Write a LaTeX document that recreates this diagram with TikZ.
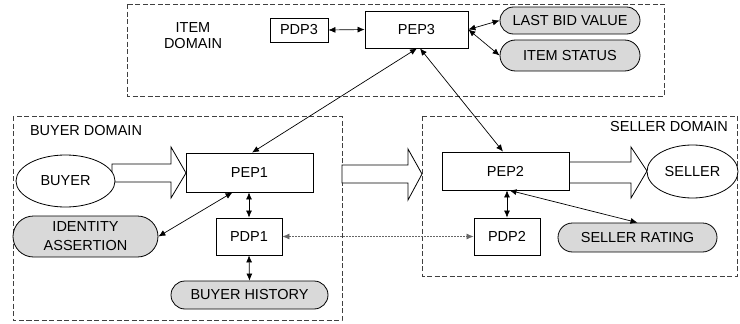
\documentclass[tikz,border=0pt]{standalone}
\usepackage{fontspec}
\setmainfont{Liberation Sans}
\usetikzlibrary{arrows.meta,shapes.misc,shapes.geometric,calc}
\begin{document}
\begin{tikzpicture}[x=1pt,y=-1pt,
  lbl/.style={font=\fontsize{14.5}{16}\selectfont},
  box/.style={draw,line width=0.8pt,fill=white,inner sep=0pt,lbl},
  store/.style={rounded rectangle,draw,line width=0.8pt,fill=black!15,inner sep=0pt,lbl},
  actor/.style={ellipse,draw,line width=0.8pt,fill=white,inner sep=0pt,lbl},
  dombox/.style={draw=black!75,line width=0.8pt,dash pattern=on 5pt off 2.5pt},
  fat/.style={draw,line width=0.8pt,fill=white,line join=miter},
  link/.style={line width=0.7pt,{Latex[length=7pt,width=6pt]}-{Latex[length=7pt,width=6pt]}},
  dotlink/.style={link,draw=black!60,dash pattern=on 2pt off 1pt}]
\useasboundingbox (0,0) rectangle (740,324);
% domains
\draw[dombox] (127,4) rectangle (664,96);
\draw[dombox] (13,116) rectangle (342,320);
\draw[dombox] (422,116) rectangle (737,276);
\node[lbl,align=center] (itemdom) at (193,36) {ITEM\\DOMAIN};
\node[lbl] (buyerdom) at (86,131) {BUYER DOMAIN};
\node[lbl] (sellerdom) at (669,127) {SELLER DOMAIN};
% big arrows
\draw[fat] (112,164) -- (171,164) -- (171,147) -- (186,173) -- (171,198) -- (171,182) -- (112,182) -- cycle;
\draw[fat] (342,165) -- (408,165) -- (408,149) -- (422,174) -- (408,200) -- (408,183) -- (342,183) -- cycle;
\draw[fat] (568,162) -- (631,162) -- (631,147) -- (647,171) -- (631,198) -- (631,183) -- (568,183) -- cycle;
% nodes
\node[box,minimum width=58pt,minimum height=24pt] (pdp3) at (299,30) {PDP3};
\node[box,minimum width=103pt,minimum height=37pt] (pep3) at (416.5,29.5) {PEP3};
\node[store,minimum width=140pt,minimum height=27pt] (lbv) at (570,20.5) {LAST BID VALUE};
\node[store,minimum width=140pt,minimum height=31pt] (ist) at (570,55.5) {ITEM STATUS};
\node[actor,minimum width=99pt,minimum height=52pt] (buyer) at (65.5,181) {BUYER};
\node[box,minimum width=127pt,minimum height=39pt] (pep1) at (249.5,172.5) {PEP1};
\node[store,minimum width=145pt,minimum height=41pt,align=center,font=\fontsize{14.5}{19}\selectfont] (ida) at (85.5,236.5) {IDENTITY\\ASSERTION};
\node[box,minimum width=66pt,minimum height=37pt] (pdp1) at (249,236.5) {PDP1};
\node[store,minimum width=157pt,minimum height=28pt] (bh) at (249.5,295) {BUYER HISTORY};
\node[box,minimum width=127pt,minimum height=38pt] (pep2) at (505.5,171) {PEP2};
\node[actor,minimum width=91pt,minimum height=53pt] (seller) at (692.5,171.5) {SELLER};
\node[box,minimum width=66pt,minimum height=37pt] (pdp2) at (507,236.5) {PDP2};
\node[store,minimum width=159pt,minimum height=29pt] (sr) at (637.5,237.5) {SELLER RATING};
% connectors
\draw[link] (pdp3.east) -- (pep3.west);
\draw[link] (pep3.east) -- (lbv.west);
\draw[link] (pep3.east) -- (ist.west);
\draw[link] ($(pep1.north)+(2.5,0)$) -- ($(pep3.south)+(0.5,0)$);
\draw[link] ($(pep2.north)+(-2.5,0)$) -- ($(pep3.south)+(3.5,0)$);
\draw[link] (pdp1.north) -- (pdp1.north |- pep1.south);
\draw[link] ($(pep1.south)+(-17,0)$) -- (ida.east);
\draw[link] (pdp1.south) -- (bh.north);
\draw[dotlink] (pdp1.east) -- (pdp2.west);
\draw[link] (pdp2.north) -- (pdp2.north |- pep2.south);
\draw[link] ($(pep2.south)+(4,0)$) -- (sr.north);
\end{tikzpicture}
\end{document}
